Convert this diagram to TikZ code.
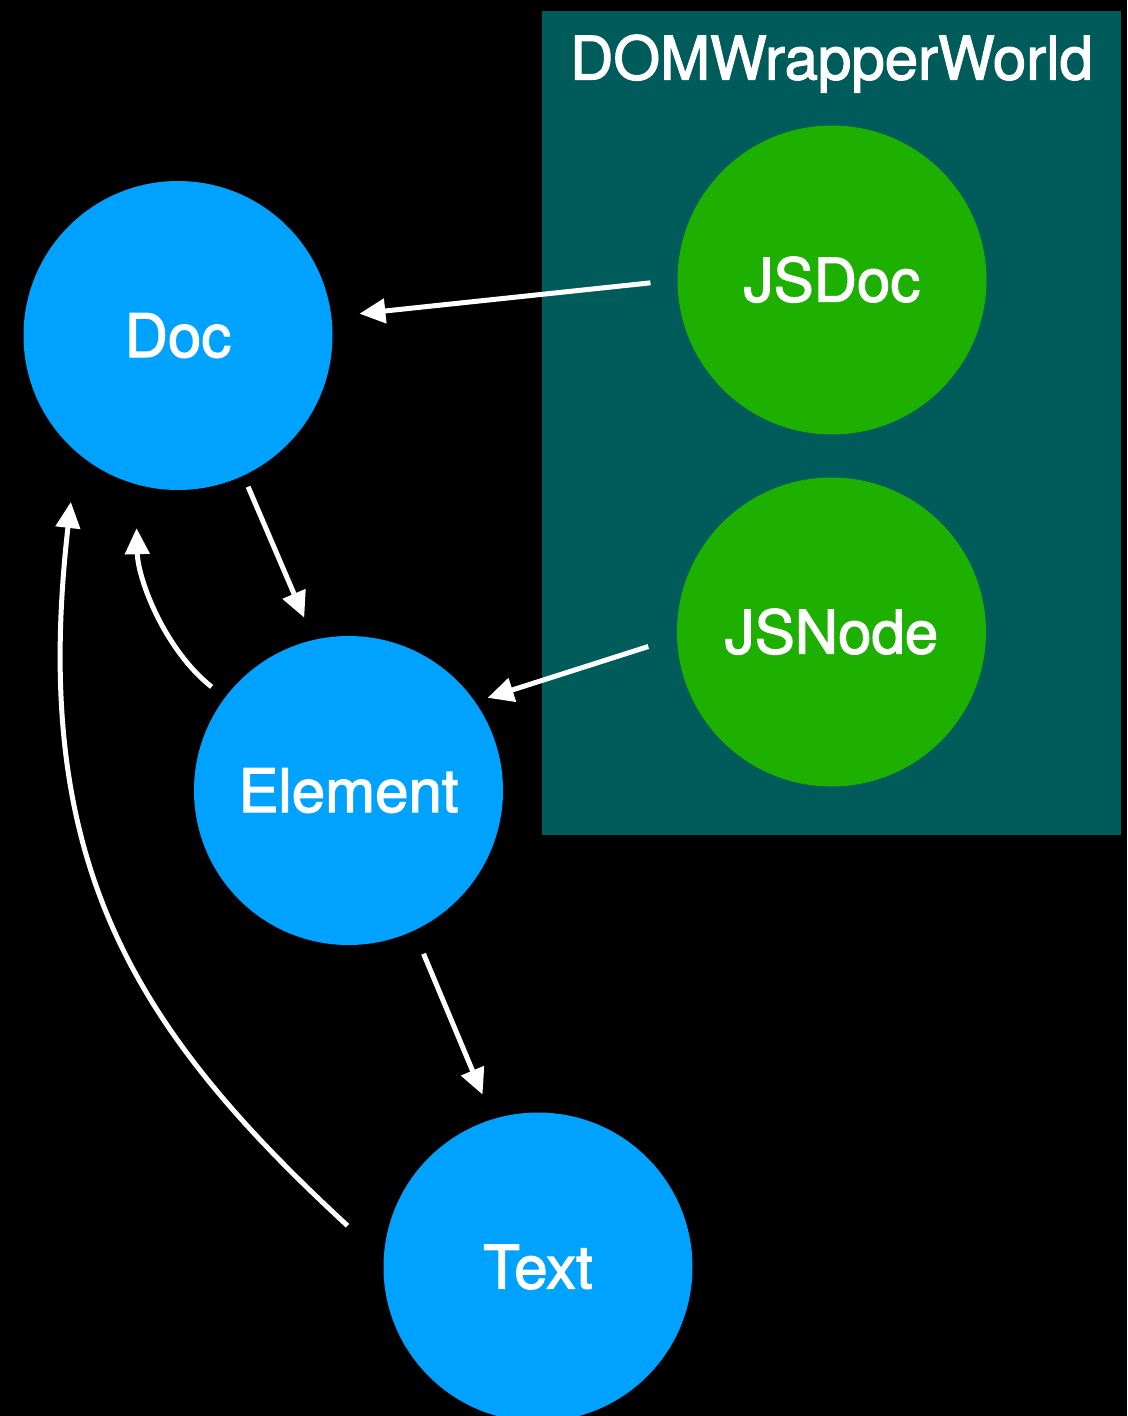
\documentclass[tikz,border=0pt]{standalone}
\usepackage{fontspec}
\setmainfont{TeX Gyre Heros}
\newfontfamily\labelfont{TeX Gyre Heros}[FakeBold=2]
\usetikzlibrary{arrows.meta}
\definecolor{nodeblue}{RGB}{0,162,255}
\definecolor{jsgreen}{RGB}{30,176,0}
\definecolor{worldteal}{RGB}{0,91,91}
\begin{document}
\begin{tikzpicture}[x=1pt,y=-1pt,
  txt/.style={text=white,font=\labelfont\fontsize{60}{72}\selectfont,
    text height=43pt,text depth=0pt,inner sep=0pt},
  ball/.style={circle,minimum size=309pt,inner sep=0pt,txt},
  domball/.style={ball,fill=nodeblue},
  jsball/.style={ball,fill=jsgreen},
  link/.style={draw=white,line width=5pt,-{Triangle[length=26pt,width=24pt]}}
]
% page and background
\useasboundingbox (0,0) rectangle (1127,1416);
\fill[black] (0,0) rectangle (1127,1416);

% wrapper world panel
\node[fill=worldteal,minimum width=579pt,minimum height=824pt,inner sep=0pt,
      anchor=north west] (world) at (542,11) {};
\node[txt] (title) at (831.5,58) {DOMWrapperWorld};

% wrapper objects
\node[jsball] (jsdoc) at (832,280) {JSDoc};
\node[jsball] (jsn) at (831.5,632) {JSNode};

% DOM tree
\node[domball] (doc) at (178,335.5) {Doc};
\node[domball] (element) at (348.5,790.5) {Element};
\node[domball] (text) at (538,1267) {Text};

% wrappers point at their DOM objects
\draw[link,shorten <=27pt,shorten >=28pt] (jsdoc.180) -- (doc.7);
\draw[link,shorten <=30pt,shorten >=13pt] (jsn.182) -- (element.35);

% child links
\draw[link,shorten <=12pt,shorten >=24pt] (doc.295) -- (element.103.5);
\draw[link,shorten <=25pt,shorten >=26.5pt] (element.295) -- (text.107);

% owner document links
\draw[link,shorten <=17pt,shorten >=44pt]
  (element.143) .. controls (165,650) and (138,580) .. (doc.254);
\draw[link,shorten <=49pt,shorten >=50pt]
  (text.177) .. controls (130,1025) and (30,860) .. (doc.229);
\end{tikzpicture}
\end{document}
